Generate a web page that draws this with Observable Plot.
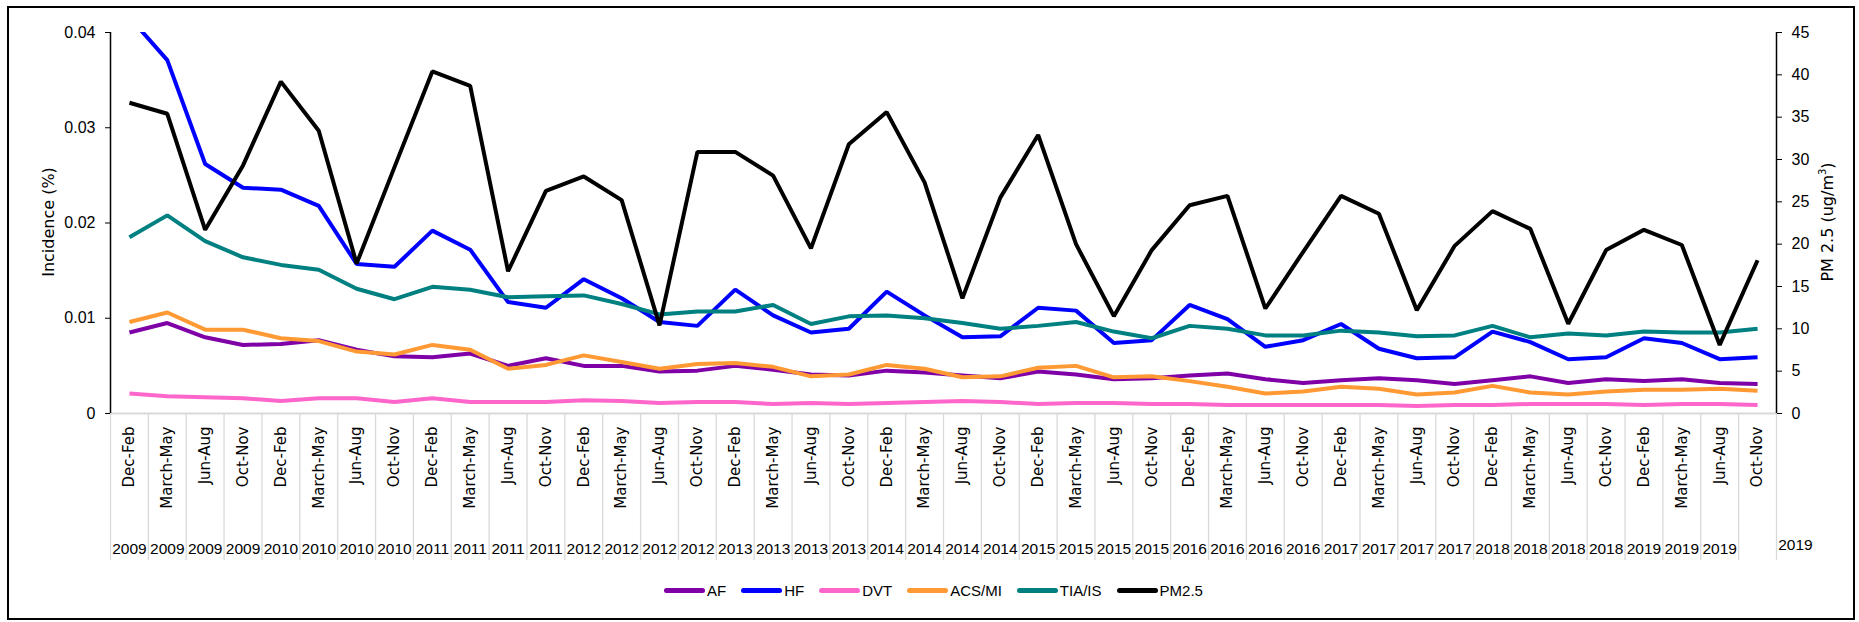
<!DOCTYPE html>
<html><head><meta charset="utf-8">
<script src="https://cdn.jsdelivr.net/npm/d3@7"></script>
<script src="https://cdn.jsdelivr.net/npm/@observablehq/plot@0.6"></script>
<style>
body{margin:0;background:#fff;}
#wrap{position:relative;width:1859px;height:622px;overflow:hidden;background:#fff;}
#frame{position:absolute;left:7px;top:6px;width:1844px;height:610px;border:2px solid #000;pointer-events:none;}
.ttl{position:absolute;font-family:"DejaVu Sans",sans-serif;font-size:16px;color:#000;white-space:nowrap;transform:translate(-50%,-50%) rotate(-90deg);}
#legend{position:absolute;left:664px;top:582px;display:flex;gap:15px;font-family:"Liberation Sans",Arial,sans-serif;font-size:15px;color:#000;}
.item{display:flex;align-items:center;}
.sw{width:41px;height:5px;border-radius:3px;margin-right:2px;}
</style></head>
<body>
<div id="wrap">
  <div id="chart"></div>
  <div id="frame"></div>
  <div class="ttl" style="left:48px;top:222px;">Incidence (%)</div>
  <div class="ttl" style="left:1827px;top:222px;">PM 2.5 (ug/m<sup style="font-size:10px">3</sup>)</div>
  <div id="legend"></div>
</div>
<script>
const seasons = ["Dec-Feb","March-May","Jun-Aug","Oct-Nov"];
const years = ["2009","2010","2011","2012","2013","2014","2015","2016","2017","2018","2019"];
const leftTicks = [0, 0.01, 0.02, 0.03, 0.04];
const rightTicks = [0,5,10,15,20,25,30,35,40,45];

const af  = [0.0085,0.0095,0.0080,0.0072,0.0073,0.0077,0.0067,0.0060,0.0059,0.0063,0.0050,0.0058,0.0050,0.0050,0.0044,0.0045,0.0050,0.0046,0.0041,0.0040,0.0045,0.0043,0.0040,0.0037,0.0044,0.0041,0.0036,0.0037,0.0040,0.0042,0.0036,0.0032,0.0035,0.0037,0.0035,0.0031,0.0035,0.0039,0.0032,0.0036,0.0034,0.0036,0.0032,0.0031];
const hf  = [0.0416,0.0371,0.0262,0.0237,0.0235,0.0218,0.0157,0.0154,0.0192,0.0172,0.0117,0.0111,0.0141,0.0121,0.0096,0.0092,0.0130,0.0103,0.0085,0.0089,0.0128,0.0103,0.0080,0.0081,0.0111,0.0108,0.0074,0.0077,0.0114,0.0099,0.0070,0.0077,0.0094,0.0068,0.0058,0.0059,0.0086,0.0075,0.0057,0.0059,0.0079,0.0074,0.0057,0.0059];
const dvt = [0.0021,0.0018,0.0017,0.0016,0.0013,0.0016,0.0016,0.0012,0.0016,0.0012,0.0012,0.0012,0.0014,0.0013,0.0011,0.0012,0.0012,0.0010,0.0011,0.0010,0.0011,0.0012,0.0013,0.0012,0.0010,0.0011,0.0011,0.0010,0.0010,0.0009,0.0009,0.0009,0.0009,0.0009,0.0008,0.0009,0.0009,0.0010,0.0010,0.0010,0.0009,0.0010,0.0010,0.0009];
const acs = [0.0096,0.0106,0.0088,0.0088,0.0079,0.0076,0.0065,0.0062,0.0072,0.0067,0.0047,0.0051,0.0061,0.0054,0.0047,0.0052,0.0053,0.0049,0.0039,0.0041,0.0051,0.0047,0.0038,0.0039,0.0048,0.0050,0.0038,0.0039,0.0034,0.0028,0.0021,0.0023,0.0028,0.0026,0.0020,0.0022,0.0029,0.0022,0.0020,0.0023,0.0025,0.0025,0.0026,0.0024];
const tia = [0.0185,0.0208,0.0181,0.0164,0.0156,0.0151,0.0131,0.0120,0.0133,0.0130,0.0122,0.0123,0.0124,0.0115,0.0104,0.0107,0.0107,0.0114,0.0094,0.0102,0.0103,0.0100,0.0095,0.0089,0.0092,0.0096,0.0086,0.0079,0.0092,0.0089,0.0082,0.0082,0.0087,0.0085,0.0081,0.0082,0.0092,0.0080,0.0084,0.0082,0.0086,0.0085,0.0085,0.0089];
const pm25 = [36.7,35.4,21.7,29.3,39.2,33.4,17.7,29.1,40.4,38.7,16.8,26.3,28.0,25.2,10.4,30.9,30.9,28.1,19.5,31.8,35.6,27.3,13.6,25.5,32.9,20.0,11.5,19.3,24.6,25.7,12.4,19.1,25.7,23.6,12.2,19.8,23.9,21.8,10.6,19.3,21.7,19.9,8.1,18.1];

const seriesNames = ["AF","HF","DVT","ACS/MI","TIA/IS","PM2.5"];
const seriesColors = ["#7F00A6","#0000FF","#FF66CC","#FF9933","#008080","#000000"];

// categories
const catSeason = [], catYear = [];
years.forEach(y => seasons.forEach(s => { catSeason.push(s); catYear.push(y); }));
const n = catSeason.length;
const idx = d3.range(n);
const boundaries = d3.range(n + 1).map(i => i - 0.5);

const k = 0.04 / 45; // secondary axis scale factor
const incSeries = [af, hf, dvt, acs, tia];
const rows = [];
incSeries.forEach((arr, s) => arr.forEach((v, i) => rows.push({s: seriesNames[s], i, v})));
pm25.forEach((v, i) => rows.push({s: "PM2.5", i, v: v * k}));

const numFont = "Liberation Sans, Arial, sans-serif";

const chart = Plot.plot({
  width: 1859, height: 622,
  marginLeft: 110, marginRight: 83, marginTop: 32, marginBottom: 209,
  x: {domain: [-0.5, n - 0.5], axis: null},
  y: {domain: [0, 0.04], axis: null},
  color: {domain: seriesNames, range: seriesColors},
  style: {background: "transparent", color: "#000"},
  marks: [
    Plot.axisX({ticks: boundaries, tickSize: 147, tickFormat: () => "", stroke: "#d9d9d9", strokeWidth: 1.3, label: null}),
    Plot.ruleY([0], {stroke: "#d9d9d9", strokeWidth: 2}),
    Plot.lineY(rows, {x: "i", y: "v", z: "s", stroke: "s", strokeWidth: 4, clip: true, strokeLinejoin: "miter", strokeLinecap: "butt"}),
    Plot.ruleX([-0.5], {y1: 0, y2: 0.04, stroke: "#000", strokeWidth: 1.5}),
    Plot.ruleX([n - 0.5], {y1: 0, y2: 0.04, stroke: "#000", strokeWidth: 1.5}),
    Plot.axisY({ticks: leftTicks, anchor: "left", tickSize: 5, tickPadding: 10, tickFormat: d => d === 0 ? "0" : d.toFixed(2), fontSize: 16, fontFamily: numFont, label: null}),
    Plot.axisY(rightTicks.map(t => t * k), {anchor: "right", tickSize: 5, tickPadding: 10, tickFormat: d => String(Math.round(d / k)), fontSize: 16, fontFamily: numFont, label: null}),
    Plot.axisX({ticks: idx, tickFormat: i => catSeason[i], tickRotate: -90, tickSize: 0, tickPadding: 13, fontSize: 15, fontFamily: "DejaVu Sans, sans-serif", label: null}),
    Plot.axisX({ticks: idx.slice(0, n - 1), tickFormat: i => catYear[i], tickSize: 0, tickPadding: 129, fontSize: 15.5, fontFamily: numFont, label: null}),
    Plot.text([catYear[n - 1]], {x: () => n, frameAnchor: "bottom", dy: 136, text: d => d, fontSize: 15.5, fontFamily: numFont})
  ]
});
document.getElementById("chart").appendChild(chart);

const legend = document.getElementById("legend");
seriesNames.forEach((name, s) => {
  const it = document.createElement("div");
  it.className = "item";
  it.innerHTML = `<span class="sw" style="background:${seriesColors[s]}"></span><span>${name}</span>`;
  legend.appendChild(it);
});
</script>
</body></html>
